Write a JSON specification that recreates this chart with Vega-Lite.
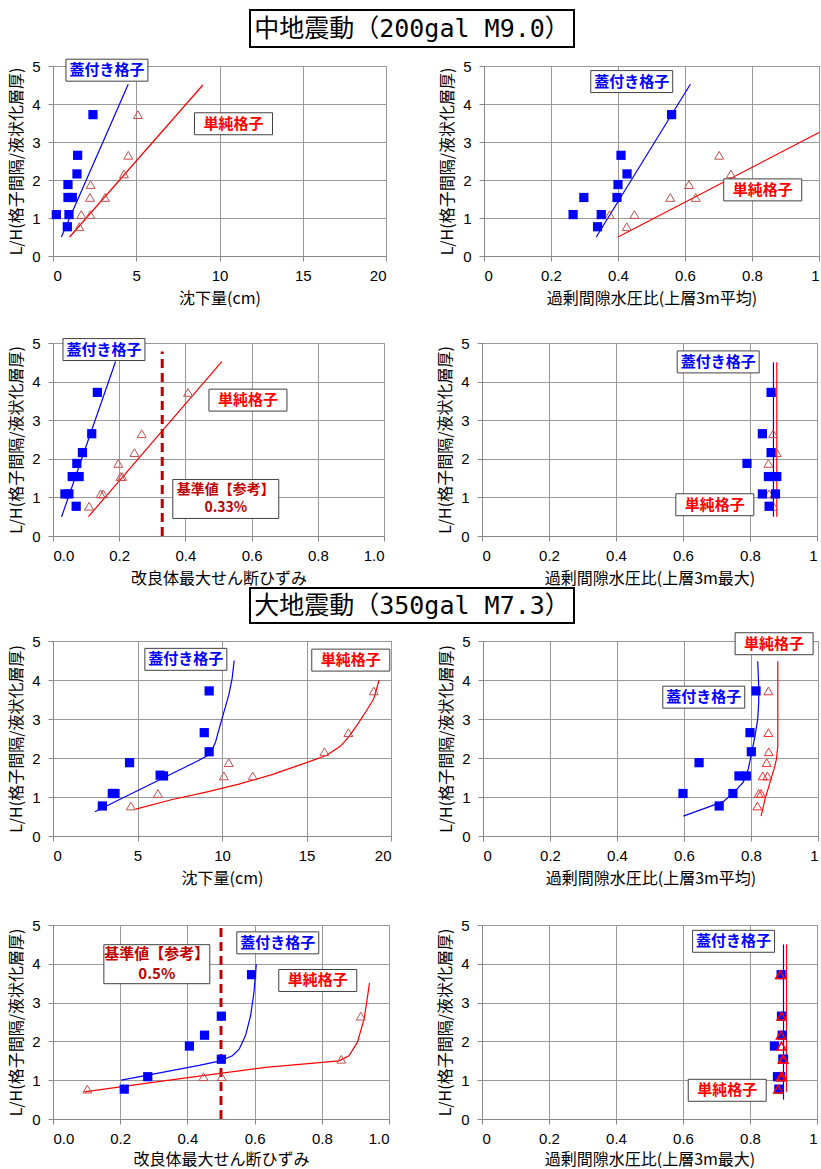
{
"$schema":"https://vega.github.io/schema/vega-lite/v6.json",
"padding":{"left":8,"top":9,"right":0,"bottom":0},
"config":{
 "font":"Noto Sans CJK JP",
 "view":{"stroke":"#999999"},
 "axis":{"gridColor":"#999999","gridOpacity":1,"domainColor":"#888888","tickColor":"#888888","tickSize":5,
   "labelFont":"Liberation Sans","labelFontSize":15,"labelColor":"#000000","labelPadding":7,
   "titleFont":"Noto Sans CJK JP","titleFontSize":16,"titleFontWeight":"normal","titleColor":"#000000","titlePadding":7},
 "axisY":{"labelPadding":8}
},
"datasets":{
 "sq":[
  {"panel":"p1","x":0.2,"y":1.09},{"panel":"p1","x":0.86,"y":0.77},{"panel":"p1","x":0.96,"y":1.09},{"panel":"p1","x":0.9,"y":1.54},{"panel":"p1","x":1.16,"y":1.54},{"panel":"p1","x":0.9,"y":1.88},{"panel":"p1","x":1.44,"y":2.16},{"panel":"p1","x":1.48,"y":2.65},{"panel":"p1","x":2.4,"y":3.72},
  {"panel":"p2","x":0.266,"y":1.09},{"panel":"p2","x":0.298,"y":1.54},{"panel":"p2","x":0.339,"y":0.77},{"panel":"p2","x":0.35,"y":1.09},{"panel":"p2","x":0.397,"y":1.54},{"panel":"p2","x":0.4,"y":1.88},{"panel":"p2","x":0.409,"y":2.65},{"panel":"p2","x":0.427,"y":2.16},{"panel":"p2","x":0.56,"y":3.72},
  {"panel":"p3","x":0.036,"y":1.09},{"panel":"p3","x":0.048,"y":1.09},{"panel":"p3","x":0.07,"y":0.77},{"panel":"p3","x":0.058,"y":1.54},{"panel":"p3","x":0.079,"y":1.54},{"panel":"p3","x":0.072,"y":1.88},{"panel":"p3","x":0.089,"y":2.16},{"panel":"p3","x":0.117,"y":2.65},{"panel":"p3","x":0.134,"y":3.72},
  {"panel":"p4","x":0.863,"y":3.72},{"panel":"p4","x":0.837,"y":2.65},{"panel":"p4","x":0.863,"y":2.16},{"panel":"p4","x":0.791,"y":1.88},{"panel":"p4","x":0.855,"y":1.54},{"panel":"p4","x":0.88,"y":1.54},{"panel":"p4","x":0.837,"y":1.09},{"panel":"p4","x":0.876,"y":1.09},{"panel":"p4","x":0.857,"y":0.77},
  {"panel":"p5","x":2.92,"y":0.77},{"panel":"p5","x":3.51,"y":1.09},{"panel":"p5","x":3.67,"y":1.09},{"panel":"p5","x":4.53,"y":1.88},{"panel":"p5","x":6.34,"y":1.56},{"panel":"p5","x":6.54,"y":1.54},{"panel":"p5","x":8.95,"y":2.65},{"panel":"p5","x":9.24,"y":2.16},{"panel":"p5","x":9.24,"y":3.72},
  {"panel":"p6","x":0.815,"y":3.72},{"panel":"p6","x":0.797,"y":2.65},{"panel":"p6","x":0.801,"y":2.16},{"panel":"p6","x":0.645,"y":1.88},{"panel":"p6","x":0.764,"y":1.54},{"panel":"p6","x":0.786,"y":1.54},{"panel":"p6","x":0.597,"y":1.09},{"panel":"p6","x":0.746,"y":1.09},{"panel":"p6","x":0.705,"y":0.77},
  {"panel":"p7","x":0.212,"y":0.77},{"panel":"p7","x":0.282,"y":1.09},{"panel":"p7","x":0.406,"y":1.88},{"panel":"p7","x":0.451,"y":2.16},{"panel":"p7","x":0.501,"y":2.65},{"panel":"p7","x":0.501,"y":1.54},{"panel":"p7","x":0.591,"y":3.72},
  {"panel":"p8","x":0.893,"y":3.72},{"panel":"p8","x":0.894,"y":2.65},{"panel":"p8","x":0.896,"y":2.16},{"panel":"p8","x":0.873,"y":1.88},{"panel":"p8","x":0.898,"y":1.54},{"panel":"p8","x":0.9,"y":1.54},{"panel":"p8","x":0.882,"y":1.09},{"panel":"p8","x":0.892,"y":1.09},{"panel":"p8","x":0.886,"y":0.77}
 ],
 "tri":[
  {"panel":"p1","x":1.58,"y":0.77},{"panel":"p1","x":1.7,"y":1.09},{"panel":"p1","x":2.24,"y":1.09},{"panel":"p1","x":2.22,"y":1.54},{"panel":"p1","x":3.12,"y":1.54},{"panel":"p1","x":2.26,"y":1.88},{"panel":"p1","x":4.26,"y":2.16},{"panel":"p1","x":4.52,"y":2.65},{"panel":"p1","x":5.1,"y":3.72},
  {"panel":"p2","x":0.375,"y":1.09},{"panel":"p2","x":0.426,"y":0.77},{"panel":"p2","x":0.449,"y":1.09},{"panel":"p2","x":0.556,"y":1.54},{"panel":"p2","x":0.612,"y":1.88},{"panel":"p2","x":0.632,"y":1.54},{"panel":"p2","x":0.702,"y":2.65},{"panel":"p2","x":0.737,"y":2.16},
  {"panel":"p3","x":0.109,"y":0.77},{"panel":"p3","x":0.144,"y":1.09},{"panel":"p3","x":0.152,"y":1.09},{"panel":"p3","x":0.197,"y":1.88},{"panel":"p3","x":0.204,"y":1.54},{"panel":"p3","x":0.209,"y":1.54},{"panel":"p3","x":0.246,"y":2.16},{"panel":"p3","x":0.268,"y":2.65},{"panel":"p3","x":0.408,"y":3.72},
  {"panel":"p4","x":0.866,"y":3.72},{"panel":"p4","x":0.869,"y":2.65},{"panel":"p4","x":0.88,"y":2.16},{"panel":"p4","x":0.855,"y":1.88},{"panel":"p4","x":0.868,"y":1.54},{"panel":"p4","x":0.872,"y":1.54},{"panel":"p4","x":0.857,"y":1.09},{"panel":"p4","x":0.873,"y":1.09},{"panel":"p4","x":0.87,"y":0.77},
  {"panel":"p5","x":4.61,"y":0.77},{"panel":"p5","x":6.21,"y":1.09},{"panel":"p5","x":10.11,"y":1.54},{"panel":"p5","x":10.4,"y":1.88},{"panel":"p5","x":11.82,"y":1.54},{"panel":"p5","x":16.06,"y":2.16},{"panel":"p5","x":17.48,"y":2.65},{"panel":"p5","x":18.98,"y":3.72},
  {"panel":"p6","x":0.852,"y":3.72},{"panel":"p6","x":0.852,"y":2.65},{"panel":"p6","x":0.853,"y":2.16},{"panel":"p6","x":0.847,"y":1.88},{"panel":"p6","x":0.835,"y":1.54},{"panel":"p6","x":0.849,"y":1.54},{"panel":"p6","x":0.823,"y":1.09},{"panel":"p6","x":0.83,"y":1.09},{"panel":"p6","x":0.819,"y":0.77},
  {"panel":"p7","x":0.102,"y":0.77},{"panel":"p7","x":0.448,"y":1.09},{"panel":"p7","x":0.502,"y":1.09},{"panel":"p7","x":0.858,"y":1.54},{"panel":"p7","x":0.916,"y":2.65},
  {"panel":"p8","x":0.89,"y":3.72},{"panel":"p8","x":0.894,"y":2.65},{"panel":"p8","x":0.892,"y":2.16},{"panel":"p8","x":0.894,"y":1.88},{"panel":"p8","x":0.898,"y":1.54},{"panel":"p8","x":0.9,"y":1.54},{"panel":"p8","x":0.892,"y":1.09},{"panel":"p8","x":0.896,"y":1.09},{"panel":"p8","x":0.884,"y":0.77}
 ],
 "fit":[
  {"panel":"p1","g":"蓋付き格子","x":0.5,"y":0.5},{"panel":"p1","g":"蓋付き格子","x":4.52,"y":4.52},
  {"panel":"p1","g":"単純格子","x":1.0,"y":0.5},{"panel":"p1","g":"単純格子","x":9.0,"y":4.5},
  {"panel":"p2","g":"蓋付き格子","x":0.335,"y":0.5},{"panel":"p2","g":"蓋付き格子","x":0.616,"y":4.52},
  {"panel":"p2","g":"単純格子","x":0.4,"y":0.5},{"panel":"p2","g":"単純格子","x":1.0,"y":3.25},
  {"panel":"p3","g":"蓋付き格子","x":0.026,"y":0.5},{"panel":"p3","g":"蓋付き格子","x":0.189,"y":4.52},
  {"panel":"p3","g":"単純格子","x":0.107,"y":0.5},{"panel":"p3","g":"単純格子","x":0.51,"y":4.52},
  {"panel":"p4","g":"蓋付き格子","x":0.87,"y":0.5},{"panel":"p4","g":"蓋付き格子","x":0.87,"y":4.5},
  {"panel":"p4","g":"単純格子","x":0.88,"y":0.5},{"panel":"p4","g":"単純格子","x":0.88,"y":4.5},
  {"panel":"p5","g":"蓋付き格子","x":2.48,"y":0.62},{"panel":"p5","g":"蓋付き格子","x":4.0,"y":0.95},{"panel":"p5","g":"蓋付き格子","x":5.5,"y":1.27},{"panel":"p5","g":"蓋付き格子","x":7.0,"y":1.59},{"panel":"p5","g":"蓋付き格子","x":8.5,"y":1.91},{"panel":"p5","g":"蓋付き格子","x":9.12,"y":2.06},{"panel":"p5","g":"蓋付き格子","x":9.4,"y":2.2},{"panel":"p5","g":"蓋付き格子","x":9.62,"y":2.41},{"panel":"p5","g":"蓋付き格子","x":9.8,"y":2.7},{"panel":"p5","g":"蓋付き格子","x":10.0,"y":3.01},{"panel":"p5","g":"蓋付き格子","x":10.2,"y":3.31},{"panel":"p5","g":"蓋付き格子","x":10.4,"y":3.61},{"panel":"p5","g":"蓋付き格子","x":10.6,"y":4.04},{"panel":"p5","g":"蓋付き格子","x":10.72,"y":4.5},
  {"panel":"p5","g":"単純格子","x":4.89,"y":0.69},{"panel":"p5","g":"単純格子","x":7.0,"y":0.93},{"panel":"p5","g":"単純格子","x":9.0,"y":1.12},{"panel":"p5","g":"単純格子","x":11.0,"y":1.33},{"panel":"p5","g":"単純格子","x":13.0,"y":1.58},{"panel":"p5","g":"単純格子","x":15.0,"y":1.88},{"panel":"p5","g":"単純格子","x":16.2,"y":2.07},{"panel":"p5","g":"単純格子","x":17.0,"y":2.3},{"panel":"p5","g":"単純格子","x":17.5,"y":2.54},{"panel":"p5","g":"単純格子","x":18.0,"y":2.85},{"panel":"p5","g":"単純格子","x":18.5,"y":3.18},{"panel":"p5","g":"単純格子","x":18.98,"y":3.52},{"panel":"p5","g":"単純格子","x":19.3,"y":4.0},
  {"panel":"p6","g":"蓋付き格子","x":0.598,"y":0.51},{"panel":"p6","g":"蓋付き格子","x":0.717,"y":0.88},{"panel":"p6","g":"蓋付き格子","x":0.747,"y":1.1},{"panel":"p6","g":"蓋付き格子","x":0.777,"y":1.38},{"panel":"p6","g":"蓋付き格子","x":0.792,"y":1.72},{"panel":"p6","g":"蓋付き格子","x":0.802,"y":2.14},{"panel":"p6","g":"蓋付き格子","x":0.812,"y":2.57},{"panel":"p6","g":"蓋付き格子","x":0.82,"y":2.99},{"panel":"p6","g":"蓋付き格子","x":0.823,"y":3.42},{"panel":"p6","g":"蓋付き格子","x":0.823,"y":3.84},{"panel":"p6","g":"蓋付き格子","x":0.82,"y":4.48},
  {"panel":"p6","g":"単純格子","x":0.83,"y":0.51},{"panel":"p6","g":"単純格子","x":0.842,"y":0.95},{"panel":"p6","g":"単純格子","x":0.857,"y":1.38},{"panel":"p6","g":"単純格子","x":0.869,"y":1.72},{"panel":"p6","g":"単純格子","x":0.876,"y":1.97},{"panel":"p6","g":"単純格子","x":0.88,"y":2.31},{"panel":"p6","g":"単純格子","x":0.88,"y":3.0},{"panel":"p6","g":"単純格子","x":0.88,"y":4.48},
  {"panel":"p7","g":"蓋付き格子","x":0.203,"y":1.0},{"panel":"p7","g":"蓋付き格子","x":0.282,"y":1.13},{"panel":"p7","g":"蓋付き格子","x":0.435,"y":1.38},{"panel":"p7","g":"蓋付き格子","x":0.494,"y":1.49},{"panel":"p7","g":"蓋付き格子","x":0.534,"y":1.63},{"panel":"p7","g":"蓋付き格子","x":0.554,"y":1.8},{"panel":"p7","g":"蓋付き格子","x":0.573,"y":2.15},{"panel":"p7","g":"蓋付き格子","x":0.588,"y":2.66},{"panel":"p7","g":"蓋付き格子","x":0.598,"y":3.26},{"panel":"p7","g":"蓋付き格子","x":0.605,"y":3.99},
  {"panel":"p7","g":"単純格子","x":0.093,"y":0.7},{"panel":"p7","g":"単純格子","x":0.335,"y":0.99},{"panel":"p7","g":"単純格子","x":0.633,"y":1.33},{"panel":"p7","g":"単純格子","x":0.851,"y":1.5},{"panel":"p7","g":"単純格子","x":0.881,"y":1.63},{"panel":"p7","g":"単純格子","x":0.906,"y":1.98},{"panel":"p7","g":"単純格子","x":0.926,"y":2.58},{"panel":"p7","g":"単純格子","x":0.935,"y":3.09},{"panel":"p7","g":"単純格子","x":0.942,"y":3.51},
  {"panel":"p8","g":"蓋付き格子","x":0.9,"y":0.5},{"panel":"p8","g":"蓋付き格子","x":0.9,"y":4.5},
  {"panel":"p8","g":"単純格子","x":0.909,"y":0.7},{"panel":"p8","g":"単純格子","x":0.909,"y":4.5}
 ],
 "lab":[
  {"panel":"p1","g":"蓋付き格子","text":"蓋付き格子","x":3.24,"y":4.89},{"panel":"p1","g":"単純格子","text":"単純格子","x":10.84,"y":3.48},
  {"panel":"p2","g":"蓋付き格子","text":"蓋付き格子","x":0.441,"y":4.59},{"panel":"p2","g":"単純格子","text":"単純格子","x":0.832,"y":1.74},
  {"panel":"p3","g":"蓋付き格子","text":"蓋付き格子","x":0.154,"y":4.83},{"panel":"p3","g":"単純格子","text":"単純格子","x":0.589,"y":3.52},{"panel":"p3","g":"基準値","text":["基準値【参考】","0.33%"],"x":0.522,"y":0.96},
  {"panel":"p4","g":"蓋付き格子","text":"蓋付き格子","x":0.705,"y":4.51},{"panel":"p4","g":"単純格子","text":"単純格子","x":0.695,"y":0.81},
  {"panel":"p5","g":"蓋付き格子","text":"蓋付き格子","x":7.86,"y":4.53},{"panel":"p5","g":"単純格子","text":"単純格子","x":17.62,"y":4.51},
  {"panel":"p6","g":"蓋付き格子","text":"蓋付き格子","x":0.659,"y":3.56},{"panel":"p6","g":"単純格子","text":"単純格子","x":0.869,"y":4.93},
  {"panel":"p7","g":"基準値","text":["基準値【参考】","0.5%"],"x":0.309,"y":3.99},{"panel":"p7","g":"蓋付き格子","text":"蓋付き格子","x":0.669,"y":4.54},{"panel":"p7","g":"単純格子","text":"単純格子","x":0.788,"y":3.57},
  {"panel":"p8","g":"蓋付き格子","text":"蓋付き格子","x":0.751,"y":4.58},{"panel":"p8","g":"単純格子","text":"単純格子","x":0.732,"y":0.74}
 ],
 "ref":[
  {"panel":"p3","x":0.33,"y":0,"y2":4.78},
  {"panel":"p7","x":0.5,"y":0,"y2":5}
 ]
},
"spacing":0,
"vconcat":[
 {"spacing":8,"vconcat":[
  {"spacing":0,"hconcat":[
   {"width":196,"height":1,"view":{"stroke":null},"data":{"values":[]},"mark":"point","encoding":{}},
   {"width":324,"height":37,"view":{"stroke":"#000000","strokeWidth":2,"fill":"#ffffff"},
    "data":{"values":[{"t":"中地震動（200gal M9.0）"}]},
    "mark":{"type":"text","font":"DejaVu Sans Mono, Noto Sans CJK JP","fontSize":25,"color":"#000000"},
    "encoding":{"text":{"field":"t"}}}
  ]},
  {"spacing":28,"vconcat":[
   {"spacing":52,"hconcat":[
    {"width":333,"height":190,
     "encoding":{"x":{"field":"x","type":"quantitative","scale":{"domain":[0,20]},"axis":{"title":"沈下量(cm)","values":[0,5,10,15,20]}},
                 "y":{"field":"y","type":"quantitative","scale":{"domain":[0,5]},"axis":{"title":"L/H(格子間隔/液状化層厚)","values":[0,1,2,3,4,5]}}},
     "layer":[
      {"data":{"name":"fit"},"transform":[{"filter":"datum.panel=='p1'"}],"mark":{"type":"line","strokeWidth":1.2},"encoding":{"color":{"field":"g","type":"nominal","scale":{"domain":["蓋付き格子","単純格子","基準値"],"range":["#0000FF","#FF0000","#C00000"]},"legend":null},"order":{"field":"y","type":"quantitative"}}},
      {"data":{"name":"tri"},"transform":[{"filter":"datum.panel=='p1'"}],"mark":{"type":"point","shape":"triangle-up","size":80,"filled":false,"stroke":"#C0504D","strokeWidth":1,"opacity":1}},
      {"data":{"name":"sq"},"transform":[{"filter":"datum.panel=='p1'"}],"mark":{"type":"point","shape":"square","size":85,"filled":true,"color":"#0000FF","opacity":1}},
      {"data":{"name":"lab"},"transform":[{"filter":"datum.panel=='p1'"}],"mark":{"type":"point","size":14400,"filled":true,"fill":"#ffffff","stroke":"#404040","strokeWidth":1,"opacity":1},"encoding":{"shape":{"field":"g","type":"nominal","scale":{"domain":["蓋付き格子","単純格子","基準値"],"range":["M-0.683,-0.183H0.683V0.183H-0.683Z","M-0.65,-0.183H0.65V0.183H-0.65Z","M-0.883,-0.325H0.883V0.325H-0.883Z"]},"legend":null}}},
      {"data":{"name":"lab"},"transform":[{"filter":"datum.panel=='p1'"}],"mark":{"type":"text","fontSize":15,"fontWeight":"bold"},"encoding":{"text":{"field":"text"},"color":{"field":"g","type":"nominal","scale":{"domain":["蓋付き格子","単純格子","基準値"],"range":["#0000FF","#FF0000","#C00000"]},"legend":null}}}
     ]},
    {"width":335,"height":190,
     "encoding":{"x":{"field":"x","type":"quantitative","scale":{"domain":[0,1]},"axis":{"title":"過剰間隙水圧比(上層3m平均)","values":[0,0.2,0.4,0.6,0.8,1],"format":"~g"}},
                 "y":{"field":"y","type":"quantitative","scale":{"domain":[0,5]},"axis":{"title":"L/H(格子間隔/液状化層厚)","values":[0,1,2,3,4,5]}}},
     "layer":[
      {"data":{"name":"fit"},"transform":[{"filter":"datum.panel=='p2'"}],"mark":{"type":"line","strokeWidth":1.2},"encoding":{"color":{"field":"g","type":"nominal","scale":{"domain":["蓋付き格子","単純格子","基準値"],"range":["#0000FF","#FF0000","#C00000"]},"legend":null},"order":{"field":"y","type":"quantitative"}}},
      {"data":{"name":"tri"},"transform":[{"filter":"datum.panel=='p2'"}],"mark":{"type":"point","shape":"triangle-up","size":80,"filled":false,"stroke":"#C0504D","strokeWidth":1,"opacity":1}},
      {"data":{"name":"sq"},"transform":[{"filter":"datum.panel=='p2'"}],"mark":{"type":"point","shape":"square","size":85,"filled":true,"color":"#0000FF","opacity":1}},
      {"data":{"name":"lab"},"transform":[{"filter":"datum.panel=='p2'"}],"mark":{"type":"point","size":14400,"filled":true,"fill":"#ffffff","stroke":"#404040","strokeWidth":1,"opacity":1},"encoding":{"shape":{"field":"g","type":"nominal","scale":{"domain":["蓋付き格子","単純格子","基準値"],"range":["M-0.683,-0.183H0.683V0.183H-0.683Z","M-0.65,-0.183H0.65V0.183H-0.65Z","M-0.883,-0.325H0.883V0.325H-0.883Z"]},"legend":null}}},
      {"data":{"name":"lab"},"transform":[{"filter":"datum.panel=='p2'"}],"mark":{"type":"text","fontSize":15,"fontWeight":"bold"},"encoding":{"text":{"field":"text"},"color":{"field":"g","type":"nominal","scale":{"domain":["蓋付き格子","単純格子","基準値"],"range":["#0000FF","#FF0000","#C00000"]},"legend":null}}}
     ]}
   ]},
   {"spacing":52,"hconcat":[
    {"width":331,"height":193,
     "encoding":{"x":{"field":"x","type":"quantitative","scale":{"domain":[0,1]},"axis":{"title":"改良体最大せん断ひずみ","values":[0,0.2,0.4,0.6,0.8,1],"format":".1f"}},
                 "y":{"field":"y","type":"quantitative","scale":{"domain":[0,5]},"axis":{"title":"L/H(格子間隔/液状化層厚)","values":[0,1,2,3,4,5]}}},
     "layer":[
      {"data":{"name":"fit"},"transform":[{"filter":"datum.panel=='p3'"}],"mark":{"type":"line","strokeWidth":1.2},"encoding":{"color":{"field":"g","type":"nominal","scale":{"domain":["蓋付き格子","単純格子","基準値"],"range":["#0000FF","#FF0000","#C00000"]},"legend":null},"order":{"field":"y","type":"quantitative"}}},
      {"data":{"name":"ref"},"transform":[{"filter":"datum.panel=='p3'"}],"mark":{"type":"rule","color":"#C00000","strokeWidth":3,"strokeDash":[9,5]},"encoding":{"y2":{"field":"y2"}}},
      {"data":{"name":"tri"},"transform":[{"filter":"datum.panel=='p3'"}],"mark":{"type":"point","shape":"triangle-up","size":80,"filled":false,"stroke":"#C0504D","strokeWidth":1,"opacity":1}},
      {"data":{"name":"sq"},"transform":[{"filter":"datum.panel=='p3'"}],"mark":{"type":"point","shape":"square","size":85,"filled":true,"color":"#0000FF","opacity":1}},
      {"data":{"name":"lab"},"transform":[{"filter":"datum.panel=='p3'"}],"mark":{"type":"point","size":14400,"filled":true,"fill":"#ffffff","stroke":"#404040","strokeWidth":1,"opacity":1},"encoding":{"shape":{"field":"g","type":"nominal","scale":{"domain":["蓋付き格子","単純格子","基準値"],"range":["M-0.683,-0.183H0.683V0.183H-0.683Z","M-0.65,-0.183H0.65V0.183H-0.65Z","M-0.883,-0.325H0.883V0.325H-0.883Z"]},"legend":null}}},
      {"data":{"name":"lab"},"transform":[{"filter":"datum.panel=='p3' && datum.g!='基準値'"}],"mark":{"type":"text","fontSize":15,"fontWeight":"bold"},"encoding":{"text":{"field":"text"},"color":{"field":"g","type":"nominal","scale":{"domain":["蓋付き格子","単純格子","基準値"],"range":["#0000FF","#FF0000","#C00000"]},"legend":null}}},
      {"data":{"name":"lab"},"transform":[{"filter":"datum.panel=='p3' && datum.g=='基準値'"}],"mark":{"type":"text","fontSize":14,"fontWeight":"bold","lineHeight":18,"dy":-9},"encoding":{"text":{"field":"text"},"color":{"field":"g","type":"nominal","scale":{"domain":["蓋付き格子","単純格子","基準値"],"range":["#0000FF","#FF0000","#C00000"]},"legend":null}}}
     ]},
    {"width":335,"height":193,
     "encoding":{"x":{"field":"x","type":"quantitative","scale":{"domain":[0,1]},"axis":{"title":"過剰間隙水圧比(上層3m最大)","values":[0,0.2,0.4,0.6,0.8,1],"format":"~g"}},
                 "y":{"field":"y","type":"quantitative","scale":{"domain":[0,5]},"axis":{"title":"L/H(格子間隔/液状化層厚)","values":[0,1,2,3,4,5]}}},
     "layer":[
      {"data":{"name":"fit"},"transform":[{"filter":"datum.panel=='p4'"}],"mark":{"type":"line","strokeWidth":1.2},"encoding":{"color":{"field":"g","type":"nominal","scale":{"domain":["蓋付き格子","単純格子","基準値"],"range":["#0000FF","#FF0000","#C00000"]},"legend":null},"order":{"field":"y","type":"quantitative"}}},
      {"data":{"name":"tri"},"transform":[{"filter":"datum.panel=='p4'"}],"mark":{"type":"point","shape":"triangle-up","size":80,"filled":false,"stroke":"#D05050","strokeWidth":1,"opacity":1}},
      {"data":{"name":"sq"},"transform":[{"filter":"datum.panel=='p4'"}],"mark":{"type":"point","shape":"square","size":85,"filled":true,"color":"#0000FF","opacity":1}},
      {"data":{"name":"lab"},"transform":[{"filter":"datum.panel=='p4'"}],"mark":{"type":"point","size":14400,"filled":true,"fill":"#ffffff","stroke":"#404040","strokeWidth":1,"opacity":1},"encoding":{"shape":{"field":"g","type":"nominal","scale":{"domain":["蓋付き格子","単純格子","基準値"],"range":["M-0.683,-0.183H0.683V0.183H-0.683Z","M-0.65,-0.183H0.65V0.183H-0.65Z","M-0.883,-0.325H0.883V0.325H-0.883Z"]},"legend":null}}},
      {"data":{"name":"lab"},"transform":[{"filter":"datum.panel=='p4'"}],"mark":{"type":"text","fontSize":15,"fontWeight":"bold"},"encoding":{"text":{"field":"text"},"color":{"field":"g","type":"nominal","scale":{"domain":["蓋付き格子","単純格子","基準値"],"range":["#0000FF","#FF0000","#C00000"]},"legend":null}}}
     ]}
   ]}
  ]}
 ]},
 {"spacing":6,"vconcat":[
  {"spacing":0,"hconcat":[
   {"width":196,"height":1,"view":{"stroke":null},"data":{"values":[]},"mark":"point","encoding":{}},
   {"width":324,"height":35,"view":{"stroke":"#000000","strokeWidth":2,"fill":"#ffffff"},
    "data":{"values":[{"t":"大地震動（350gal M7.3）"}]},
    "mark":{"type":"text","font":"DejaVu Sans Mono, Noto Sans CJK JP","fontSize":25,"color":"#000000"},
    "encoding":{"text":{"field":"t"}}}
  ]},
  {"spacing":30,"vconcat":[
   {"spacing":45,"hconcat":[
    {"width":338,"height":195,
     "encoding":{"x":{"field":"x","type":"quantitative","scale":{"domain":[0,20]},"axis":{"title":"沈下量(cm)","values":[0,5,10,15,20]}},
                 "y":{"field":"y","type":"quantitative","scale":{"domain":[0,5]},"axis":{"title":"L/H(格子間隔/液状化層厚)","values":[0,1,2,3,4,5]}}},
     "layer":[
      {"data":{"name":"fit"},"transform":[{"filter":"datum.panel=='p5'"}],"mark":{"type":"line","strokeWidth":1.2},"encoding":{"color":{"field":"g","type":"nominal","scale":{"domain":["蓋付き格子","単純格子","基準値"],"range":["#0000FF","#FF0000","#C00000"]},"legend":null},"order":{"field":"y","type":"quantitative"}}},
      {"data":{"name":"tri"},"transform":[{"filter":"datum.panel=='p5'"}],"mark":{"type":"point","shape":"triangle-up","size":80,"filled":false,"stroke":"#C0504D","strokeWidth":1,"opacity":1}},
      {"data":{"name":"sq"},"transform":[{"filter":"datum.panel=='p5'"}],"mark":{"type":"point","shape":"square","size":85,"filled":true,"color":"#0000FF","opacity":1}},
      {"data":{"name":"lab"},"transform":[{"filter":"datum.panel=='p5'"}],"mark":{"type":"point","size":14400,"filled":true,"fill":"#ffffff","stroke":"#404040","strokeWidth":1,"opacity":1},"encoding":{"shape":{"field":"g","type":"nominal","scale":{"domain":["蓋付き格子","単純格子","基準値"],"range":["M-0.683,-0.183H0.683V0.183H-0.683Z","M-0.65,-0.183H0.65V0.183H-0.65Z","M-0.883,-0.325H0.883V0.325H-0.883Z"]},"legend":null}}},
      {"data":{"name":"lab"},"transform":[{"filter":"datum.panel=='p5'"}],"mark":{"type":"text","fontSize":15,"fontWeight":"bold"},"encoding":{"text":{"field":"text"},"color":{"field":"g","type":"nominal","scale":{"domain":["蓋付き格子","単純格子","基準値"],"range":["#0000FF","#FF0000","#C00000"]},"legend":null}}}
     ]},
    {"width":335,"height":195,
     "encoding":{"x":{"field":"x","type":"quantitative","scale":{"domain":[0,1]},"axis":{"title":"過剰間隙水圧比(上層3m平均)","values":[0,0.2,0.4,0.6,0.8,1],"format":"~g"}},
                 "y":{"field":"y","type":"quantitative","scale":{"domain":[0,5]},"axis":{"title":"L/H(格子間隔/液状化層厚)","values":[0,1,2,3,4,5]}}},
     "layer":[
      {"data":{"name":"fit"},"transform":[{"filter":"datum.panel=='p6'"}],"mark":{"type":"line","strokeWidth":1.2},"encoding":{"color":{"field":"g","type":"nominal","scale":{"domain":["蓋付き格子","単純格子","基準値"],"range":["#0000FF","#FF0000","#C00000"]},"legend":null},"order":{"field":"y","type":"quantitative"}}},
      {"data":{"name":"tri"},"transform":[{"filter":"datum.panel=='p6'"}],"mark":{"type":"point","shape":"triangle-up","size":80,"filled":false,"stroke":"#F03030","strokeWidth":1,"opacity":1}},
      {"data":{"name":"sq"},"transform":[{"filter":"datum.panel=='p6'"}],"mark":{"type":"point","shape":"square","size":85,"filled":true,"color":"#0000FF","opacity":1}},
      {"data":{"name":"lab"},"transform":[{"filter":"datum.panel=='p6'"}],"mark":{"type":"point","size":14400,"filled":true,"fill":"#ffffff","stroke":"#404040","strokeWidth":1,"opacity":1},"encoding":{"shape":{"field":"g","type":"nominal","scale":{"domain":["蓋付き格子","単純格子","基準値"],"range":["M-0.683,-0.183H0.683V0.183H-0.683Z","M-0.65,-0.183H0.65V0.183H-0.65Z","M-0.883,-0.325H0.883V0.325H-0.883Z"]},"legend":null}}},
      {"data":{"name":"lab"},"transform":[{"filter":"datum.panel=='p6'"}],"mark":{"type":"text","fontSize":15,"fontWeight":"bold"},"encoding":{"text":{"field":"text"},"color":{"field":"g","type":"nominal","scale":{"domain":["蓋付き格子","単純格子","基準値"],"range":["#0000FF","#FF0000","#C00000"]},"legend":null}}}
     ]}
   ]},
   {"spacing":47,"hconcat":[
    {"width":336,"height":194,
     "encoding":{"x":{"field":"x","type":"quantitative","scale":{"domain":[0,1]},"axis":{"title":"改良体最大せん断ひずみ","titlePadding":5,"values":[0,0.2,0.4,0.6,0.8,1],"format":".1f"}},
                 "y":{"field":"y","type":"quantitative","scale":{"domain":[0,5]},"axis":{"title":"L/H(格子間隔/液状化層厚)","values":[0,1,2,3,4,5]}}},
     "layer":[
      {"data":{"name":"fit"},"transform":[{"filter":"datum.panel=='p7'"}],"mark":{"type":"line","strokeWidth":1.2},"encoding":{"color":{"field":"g","type":"nominal","scale":{"domain":["蓋付き格子","単純格子","基準値"],"range":["#0000FF","#FF0000","#C00000"]},"legend":null},"order":{"field":"y","type":"quantitative"}}},
      {"data":{"name":"ref"},"transform":[{"filter":"datum.panel=='p7'"}],"mark":{"type":"rule","color":"#C00000","strokeWidth":3,"strokeDash":[9,5]},"encoding":{"y2":{"field":"y2"}}},
      {"data":{"name":"tri"},"transform":[{"filter":"datum.panel=='p7'"}],"mark":{"type":"point","shape":"triangle-up","size":80,"filled":false,"stroke":"#C0504D","strokeWidth":1,"opacity":1}},
      {"data":{"name":"sq"},"transform":[{"filter":"datum.panel=='p7'"}],"mark":{"type":"point","shape":"square","size":85,"filled":true,"color":"#0000FF","opacity":1}},
      {"data":{"name":"lab"},"transform":[{"filter":"datum.panel=='p7'"}],"mark":{"type":"point","size":14400,"filled":true,"fill":"#ffffff","stroke":"#404040","strokeWidth":1,"opacity":1},"encoding":{"shape":{"field":"g","type":"nominal","scale":{"domain":["蓋付き格子","単純格子","基準値"],"range":["M-0.683,-0.183H0.683V0.183H-0.683Z","M-0.65,-0.183H0.65V0.183H-0.65Z","M-0.883,-0.325H0.883V0.325H-0.883Z"]},"legend":null}}},
      {"data":{"name":"lab"},"transform":[{"filter":"datum.panel=='p7' && datum.g!='基準値'"}],"mark":{"type":"text","fontSize":15,"fontWeight":"bold"},"encoding":{"text":{"field":"text"},"color":{"field":"g","type":"nominal","scale":{"domain":["蓋付き格子","単純格子","基準値"],"range":["#0000FF","#FF0000","#C00000"]},"legend":null}}},
      {"data":{"name":"lab"},"transform":[{"filter":"datum.panel=='p7' && datum.g=='基準値'"}],"mark":{"type":"text","fontSize":15,"fontWeight":"bold","lineHeight":20,"dy":-10},"encoding":{"text":{"field":"text"},"color":{"field":"g","type":"nominal","scale":{"domain":["蓋付き格子","単純格子","基準値"],"range":["#0000FF","#FF0000","#C00000"]},"legend":null}}}
     ]},
    {"width":335,"height":194,
     "encoding":{"x":{"field":"x","type":"quantitative","scale":{"domain":[0,1]},"axis":{"title":"過剰間隙水圧比(上層3m最大)","titlePadding":5,"values":[0,0.2,0.4,0.6,0.8,1],"format":"~g"}},
                 "y":{"field":"y","type":"quantitative","scale":{"domain":[0,5]},"axis":{"title":"L/H(格子間隔/液状化層厚)","values":[0,1,2,3,4,5]}}},
     "layer":[
      {"data":{"name":"fit"},"transform":[{"filter":"datum.panel=='p8'"}],"mark":{"type":"line","strokeWidth":1.2},"encoding":{"color":{"field":"g","type":"nominal","scale":{"domain":["蓋付き格子","単純格子","基準値"],"range":["#0000FF","#FF0000","#C00000"]},"legend":null},"order":{"field":"y","type":"quantitative"}}},
      {"data":{"name":"sq"},"transform":[{"filter":"datum.panel=='p8'"}],"mark":{"type":"point","shape":"square","size":85,"filled":true,"color":"#0000FF","opacity":1}},
      {"data":{"name":"tri"},"transform":[{"filter":"datum.panel=='p8'"}],"mark":{"type":"point","shape":"triangle-up","size":80,"filled":false,"stroke":"#FF0000","strokeWidth":1.5,"opacity":1}},
      {"data":{"name":"lab"},"transform":[{"filter":"datum.panel=='p8'"}],"mark":{"type":"point","size":14400,"filled":true,"fill":"#ffffff","stroke":"#404040","strokeWidth":1,"opacity":1},"encoding":{"shape":{"field":"g","type":"nominal","scale":{"domain":["蓋付き格子","単純格子","基準値"],"range":["M-0.683,-0.183H0.683V0.183H-0.683Z","M-0.65,-0.183H0.65V0.183H-0.65Z","M-0.883,-0.325H0.883V0.325H-0.883Z"]},"legend":null}}},
      {"data":{"name":"lab"},"transform":[{"filter":"datum.panel=='p8'"}],"mark":{"type":"text","fontSize":15,"fontWeight":"bold"},"encoding":{"text":{"field":"text"},"color":{"field":"g","type":"nominal","scale":{"domain":["蓋付き格子","単純格子","基準値"],"range":["#0000FF","#FF0000","#C00000"]},"legend":null}}}
     ]}
   ]}
  ]}
 ]}
]
}
